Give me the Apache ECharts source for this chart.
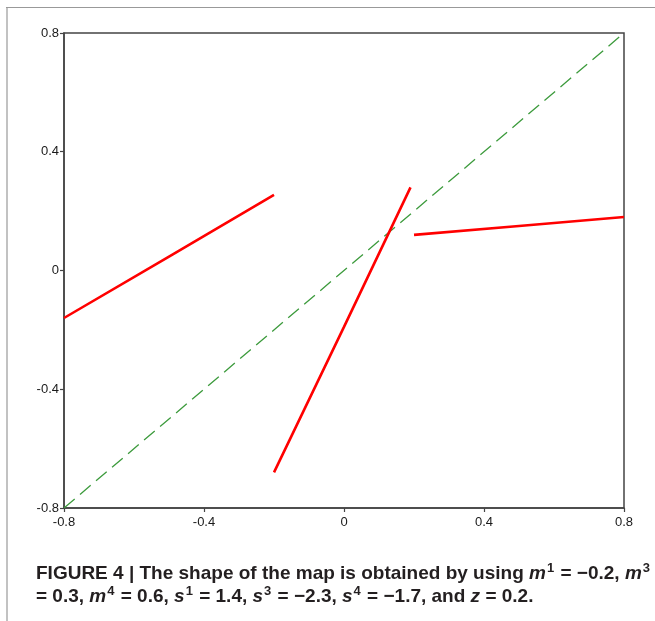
<!DOCTYPE html>
<html>
<head>
<meta charset="utf-8">
<script src="https://cdn.jsdelivr.net/npm/echarts@6/dist/echarts.min.js"></script>
<style>
html,body{margin:0;padding:0;background:#fff;}
#chart{width:655px;height:621px;}
</style>
</head>
<body>
<div id="chart"></div>
<script>
// Axis ticks
const xTicks = [-0.8, -0.4, 0, 0.4, 0.8];
const yTicks = [-0.8, -0.4, 0, 0.4, 0.8];
// Red map segments (x, y)
const seg1X = [-0.8, -0.5, -0.2];
const seg1Y = [-0.16, 0.047, 0.255];
const seg2X = [-0.2, 0.0, 0.19];
const seg2Y = [-0.68, -0.19, 0.28];
const seg3X = [0.2, 0.5, 0.8];
const seg3Y = [0.12, 0.15, 0.18];
// Identity diagonal
const diagX = [-0.8, 0.8];
const diagY = [-0.8, 0.8];

const pairs = (xs, ys) => xs.map((x, i) => [x, ys[i]]);
const fmt = v => (Math.abs(v) < 1e-9 ? '0' : String(Math.round(v * 10) / 10));

const chart = echarts.init(document.getElementById('chart'));
const labelStyle = { color: '#1a1a1a', fontSize: 13, fontFamily: 'Liberation Sans, Arial', formatter: fmt };
const axisCommon = {
  type: 'value', min: xTicks[0], max: xTicks[xTicks.length - 1], interval: 0.4,
  axisLine: { show: true, onZero: false, lineStyle: { color: '#444', width: 1.5 } },
  axisTick: { show: true, length: 4, lineStyle: { color: '#444', width: 1.2 } },
  splitLine: { show: false }
};
const redStyle = { color: '#ff0000', width: 2.6 };
chart.setOption({
  animation: false,
  grid: { left: 64, right: 31, top: 33, bottom: 113, show: true, borderColor: '#444', borderWidth: 1.5, backgroundColor: 'transparent' },
  xAxis: Object.assign({}, axisCommon, { axisLabel: Object.assign({}, labelStyle, { margin: 8 }) }),
  yAxis: Object.assign({}, axisCommon, { min: yTicks[0], max: yTicks[yTicks.length - 1], axisLabel: Object.assign({}, labelStyle, { margin: 5 }) }),
  series: [
    { type: 'line', data: pairs(diagX, diagY), showSymbol: false, lineStyle: { color: '#3d9b3d', width: 1.3, type: [14, 7] }, z: 1 },
    { type: 'line', data: pairs(seg1X, seg1Y), showSymbol: false, lineStyle: redStyle, z: 2 },
    { type: 'line', data: pairs(seg2X, seg2Y), showSymbol: false, lineStyle: redStyle, z: 2 },
    { type: 'line', data: pairs(seg3X, seg3Y), showSymbol: false, lineStyle: redStyle, z: 2 }
  ],
  graphic: [
    { type: 'line', shape: { x1: 6, y1: 7.5, x2: 655, y2: 7.5 }, style: { stroke: '#999', lineWidth: 1.2 } },
    { type: 'line', shape: { x1: 7, y1: 7, x2: 7, y2: 621 }, style: { stroke: '#999', lineWidth: 1.2 } },
    {
      type: 'text', left: 36, top: 562,
      style: {
        text: '{b|FIGURE 4 | The shape of the map is obtained by using }{i|m}{s|1}{b| = \u22120.2, }{i|m}{s|3}\n' +
              '{b|= 0.3, }{i|m}{s|4}{b| = 0.6, }{i|s}{s|1}{b| = 1.4, }{i|s}{s|3}{b| = \u22122.3, }{i|s}{s|4}{b| = \u22121.7, and }{i|z}{b| = 0.2.}',
        fill: '#231f20',
        rich: {
          b: { fontSize: 19, fontWeight: 'bold', fontFamily: 'Liberation Sans, Arial', fill: '#231f20', lineHeight: 23 },
          i: { fontSize: 19, fontWeight: 'bold', fontStyle: 'italic', fontFamily: 'Liberation Sans, Arial', fill: '#231f20', lineHeight: 23 },
          s: { fontSize: 13, fontWeight: 'bold', fontFamily: 'Liberation Sans, Arial', fill: '#231f20', lineHeight: 23, verticalAlign: 'top', padding: [0, 1, 8, 1] }
        }
      }
    }
  ]
});
</script>
</body>
</html>
